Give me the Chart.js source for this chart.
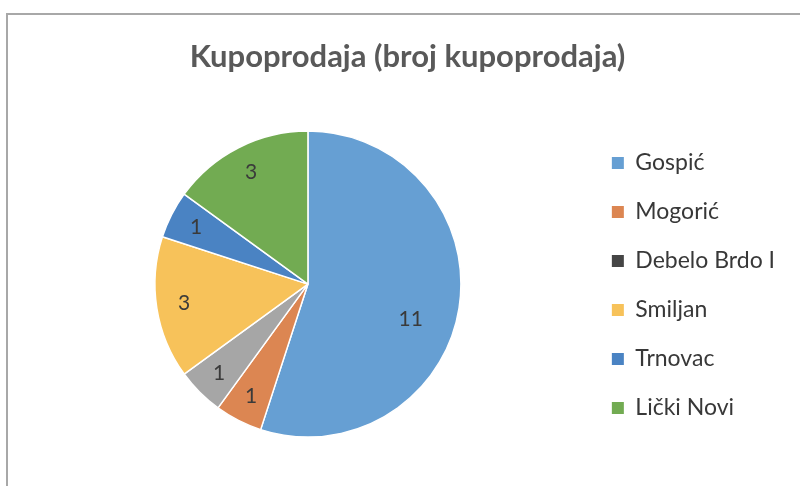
<!DOCTYPE html>
<html>
<head>
<meta charset="utf-8">
<script src="https://cdn.jsdelivr.net/npm/chart.js@4.4.1/dist/chart.umd.min.js"></script>
<style>
  html, body { margin: 0; padding: 0; background: #fff; }
  #wrap { position: relative; width: 800px; height: 486px; overflow: hidden; background: #fff; }
  #frame { position: absolute; left: 6px; top: 13px; width: 820px; height: 500px;
           border-top: 2px solid #a8a8a8; border-left: 2px solid #a8a8a8; }
  canvas { position: absolute; left: 0; top: 0; }
</style>
</head>
<body>
<div id="wrap">
  <div id="frame"></div>
  <canvas id="c" width="800" height="486"></canvas>
</div>
<script>
const titleText = 'Kupoprodaja (broj kupoprodaja)';
const categories = ['Gospić', 'Mogorić', 'Debelo Brdo I', 'Smiljan', 'Trnovac', 'Lički Novi'];
const values = [11, 1, 1, 3, 1, 3];
const sliceColors = ['#669fd3', '#dc8652', '#a6a6a6', '#f7c25a', '#4a83c3', '#72ab52'];
const legendColors = ['#669fd3', '#dc8652', '#454545', '#f7c25a', '#4a83c3', '#72ab52'];

const valueLabels = {
  id: 'valueLabels',
  afterDatasetsDraw(chart) {
    const ctx = chart.ctx;
    const meta = chart.getDatasetMeta(0);
    ctx.save();
    ctx.font = '21px Lato, "Liberation Sans", sans-serif';
    ctx.fillStyle = '#3a3a3a';
    ctx.textAlign = 'center';
    ctx.textBaseline = 'middle';
    meta.data.forEach((arc, i) => {
      const p = arc.getProps(['x', 'y', 'startAngle', 'endAngle', 'outerRadius']);
      const big = values[i] > 5;
      const mid = (p.startAngle + p.endAngle) / 2 + (big ? 0.17 : 0);
      const r = p.outerRadius * (big ? 0.71 : 0.82);
      ctx.fillText(String(values[i]), p.x + Math.cos(mid) * r, p.y + Math.sin(mid) * r);
    });
    ctx.restore();
  }
};

new Chart(document.getElementById('c'), {
  type: 'pie',
  data: {
    labels: categories,
    datasets: [{
      data: values,
      backgroundColor: sliceColors,
      borderColor: '#ffffff',
      borderWidth: 1.5,
      radius: 153
    }]
  },
  options: {
    responsive: false,
    animation: false,
    layout: { padding: { top: 33, left: 30, right: 15, bottom: 0 } },
    plugins: {
      title: {
        display: true,
        text: titleText,
        color: '#595959',
        font: { family: 'Lato, "Liberation Sans", sans-serif', size: 31, weight: 'bold' },
        padding: { top: 5, bottom: 7 }
      },
      legend: {
        position: 'right',
        align: 'center',
        title: { display: true, text: ' ', font: { size: 10 }, padding: 20 },
        labels: {
          color: '#383838',
          font: { family: 'Lato, "Liberation Sans", sans-serif', size: 23 },
          boxWidth: 12,
          boxHeight: 12,
          padding: 26,
          generateLabels(chart) {
            return categories.map((c, i) => ({
              text: c,
              fillStyle: legendColors[i],
              strokeStyle: legendColors[i],
              lineWidth: 0,
              fontColor: '#383838',
              index: i,
              hidden: false
            }));
          }
        }
      },
      tooltip: { enabled: false }
    }
  },
  plugins: [valueLabels]
});
</script>
</body>
</html>
